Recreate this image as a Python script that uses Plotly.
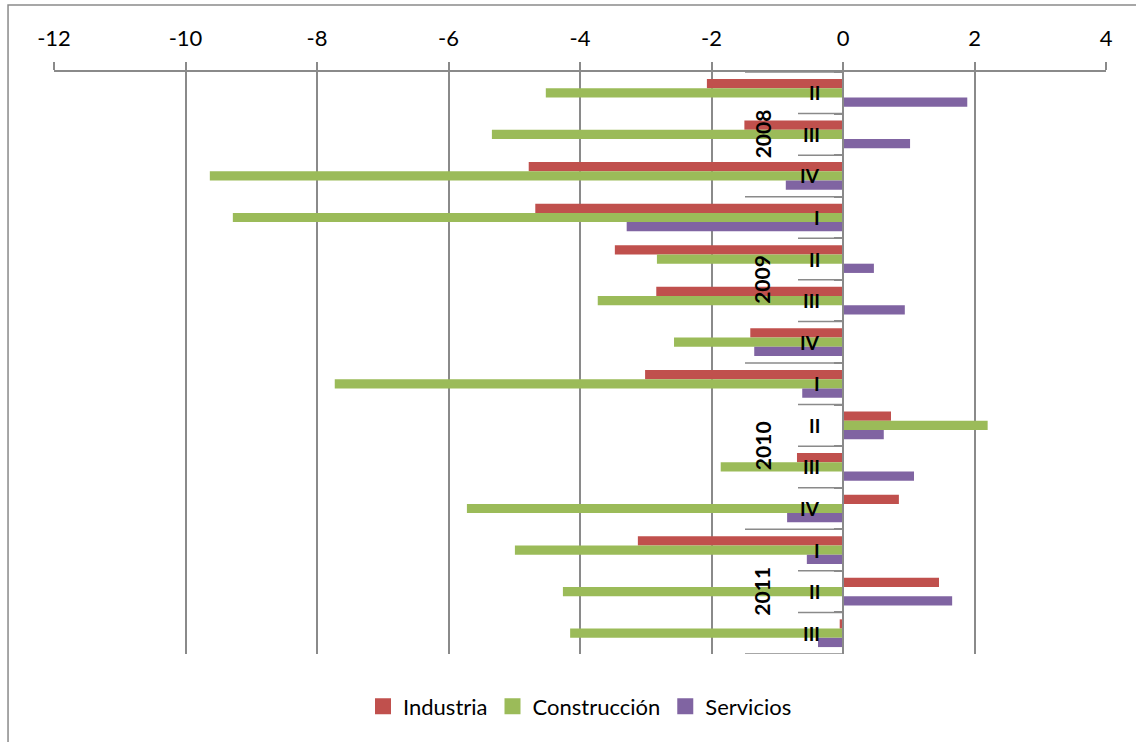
import plotly.graph_objects as go

# ---- data ----
years = ["2008", "2008", "2008",
         "2009", "2009", "2009", "2009",
         "2010", "2010", "2010", "2010",
         "2011", "2011", "2011"]
quarters = ["II", "III", "IV",
            "I", "II", "III", "IV",
            "I", "II", "III", "IV",
            "I", "II", "III"]
industria = [-2.07, -1.50, -4.78, -4.68, -3.47, -2.84, -1.41,
             -3.01, 0.73, -0.70, 0.85, -3.12, 1.46, -0.05]
construccion = [-4.52, -5.34, -9.63, -9.28, -2.83, -3.73, -2.57,
                -7.73, 2.20, -1.86, -5.72, -4.99, -4.26, -4.15]
servicios = [1.89, 1.02, -0.87, -3.29, 0.47, 0.94, -1.35,
             -0.62, 0.62, 1.08, -0.85, -0.55, 1.66, -0.38]
series_names = ["Industria", "Construcción", "Servicios"]
x_ticks = [-12, -10, -8, -6, -4, -2, 0, 2, 4]
x_tick_labels = ["-12", "-10", "-8", "-6", "-4", "-2", "0", "2", "4"]

# ---- styling ----
colors = ["#C0504D", "#9BBB59", "#8064A2"]
GRID = "#8a8a8a"
FONT = "Lato"

cats = [f"{y} {q}" for y, q in zip(years, quarters)]

fig = go.Figure()
for name, vals, col in zip(series_names, [industria, construccion, servicios], colors):
    fig.add_trace(go.Bar(
        y=cats, x=vals, name=name, orientation="h", showlegend=False,
        legendgroup=name,
        marker=dict(color=col, line=dict(width=0)),
    ))
# legend entries with larger square swatches
for name, col in zip(series_names, colors):
    fig.add_trace(go.Scatter(
        x=[None], y=[None], mode="markers", name=name, legendgroup=name,
        marker=dict(symbol="square", size=16, color=col),
    ))

# quarter labels
for c, q in zip(cats, quarters):
    fig.add_annotation(x=0, y=c, xref="x", yref="y", text=f"<b>{q}</b>",
                       showarrow=False, xanchor="right", yanchor="middle",
                       xshift=-21, font=dict(family=FONT, size=19, color="black"))

# year labels (centred across the year's categories)
groups = {}
for i, y in enumerate(years):
    groups.setdefault(y, []).append(i)
for y, idx in groups.items():
    center = sum(idx) / len(idx)
    fig.add_annotation(x=0, y=center, xref="x", yref="y", text=f"<b>{y}</b>",
                       showarrow=False, textangle=-90, xanchor="center",
                       yanchor="middle", xshift=-81,
                       font=dict(family=FONT, size=21, color="black"))

# category separators (short between quarters, long between years)
shapes = []
n = len(cats)
for b in range(n + 1):
    pos = b - 0.5
    is_year = b == 0 or b == n or years[b] != years[b - 1]
    length = 98 if is_year else 45
    shapes.append(dict(type="line", xref="x", yref="y", xsizemode="pixel",
                       xanchor=0, x0=-length, x1=0, y0=pos, y1=pos,
                       line=dict(color=GRID, width=1.5)))
# outer chart border (cropped)
shapes.append(dict(type="rect", xref="paper", yref="paper",
                   x0=-0.0437, x1=1.2, y0=1.1151, y1=-0.5,
                   line=dict(color=GRID, width=1.5), fillcolor="rgba(0,0,0,0)",
                   layer="below"))

fig.update_layout(
    width=1136, height=742,
    margin=dict(l=54, r=30, t=72, b=88),
    paper_bgcolor="white", plot_bgcolor="white",
    barmode="group", bargap=0.333, bargroupgap=0,
    font=dict(family=FONT, size=22, color="black"),
    shapes=shapes,
    showlegend=True,
    legend=dict(orientation="h", x=0.5, xanchor="center", y=-0.09,
                yanchor="middle", font=dict(family=FONT, size=22),
                itemclick=False, itemdoubleclick=False, itemwidth=30),
    xaxis=dict(range=[-12, 4], tickvals=x_ticks, ticktext=x_tick_labels,
               side="top",
               showgrid=True, gridcolor=GRID, gridwidth=1.5,
               showline=True, linecolor=GRID, linewidth=1.5,
               ticks="outside", ticklen=8, tickcolor=GRID, tickwidth=1.5,
               zeroline=False, ticklabelstandoff=7,
               tickfont=dict(family=FONT, size=22)),
    yaxis=dict(type="category", range=[n - 0.5, -0.5],
               anchor="free", position=0.75,
               showline=True, linecolor=GRID, linewidth=1.5,
               ticks="outside", tickson="boundaries", ticklen=8,
               tickcolor=GRID, tickwidth=1.5,
               showticklabels=False, showgrid=False, zeroline=False),
)

fig.write_html("out.html",
               config={"displayModeBar": False},
               post_script="document.body.style.margin='0';"
                           "document.body.style.overflow='hidden';")
